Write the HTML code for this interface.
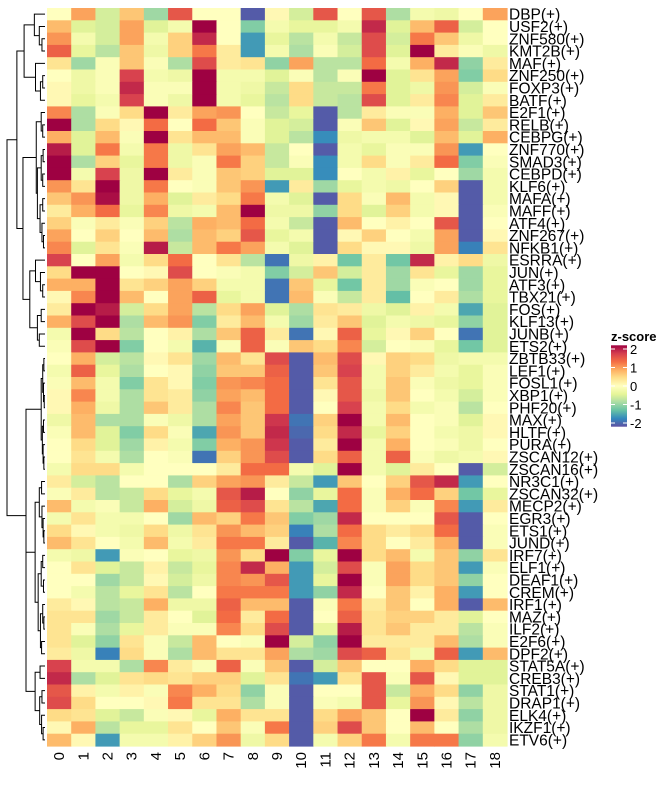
<!DOCTYPE html>
<html><head><meta charset="utf-8"><style>
html,body{margin:0;padding:0;background:#fff;}
svg text{font-family:"Liberation Sans",Arial,sans-serif;}
</style></head><body>
<svg id="chart" width="669" height="780" viewBox="0 0 669 780" xmlns="http://www.w3.org/2000/svg">
<g id="dendro"></g>
<g id="cells"></g>
<g id="rowlabels"></g>
<g id="collabels"></g>
<g id="legend"></g>
</svg>
<script>
const rowNames = ["DBP","USF2","ZNF580","KMT2B","MAF","ZNF250","FOXP3","BATF","E2F1","RELB","CEBPG","ZNF770","SMAD3","CEBPD","KLF6","MAFA","MAFF","ATF4","ZNF267","NFKB1","ESRRA","JUN","ATF3","TBX21","FOS","KLF13","JUNB","ETS2","ZBTB33","LEF1","FOSL1","XBP1","PHF20","MAX","HLTF","PURA","ZSCAN12","ZSCAN16","NR3C1","ZSCAN32","MECP2","EGR3","ETS1","JUND","IRF7","ELF1","DEAF1","CREM","IRF1","MAZ","ILF2","E2F6","DPF2","STAT5A","CREB3","STAT1","DRAP1","ELK4","IKZF1","ETV6"];
const colNames = ["0","1","2","3","4","5","6","7","8","9","10","11","12","13","14","15","16","17","18"];
const legendTicks = [2,1,0,-1,-2];
const zValues = [
[0,1,-0.6,0.7,-1,1.6,0,0,-2.2,0.1,-0.6,1.6,0,1.6,-0.9,-0.2,-0.3,0,1],
[0.8,-0.5,-0.6,1,-0.5,-0.2,2.3,0,-1.2,-0.2,-0.4,-0.4,-0.2,2,-0.5,0.8,1.5,-0.6,0],
[1.1,-0.2,-0.6,1,-0.2,0.6,2,0,-1.7,-0.4,-0.8,-0.2,-0.7,1.7,-0.6,1.3,0.7,-0.3,0],
[1.5,-0.4,-0.8,0.7,-0.3,0.6,1.3,0.3,-1.7,-0.2,-0.9,-0.1,-0.6,1.7,-0.5,2.3,0.3,-0.1,-0.3],
[0.4,-1,-0.1,0.7,-0.1,-0.9,1.7,0.3,0.4,-1.1,1,-0.8,-0.8,1.4,-0.2,0.9,2,-1.1,0.3],
[0,-0.3,-0.1,1.8,-0.2,-0.3,2.3,-0.2,-0.2,-0.5,-0.1,-0.8,-0.1,2.3,-0.5,0.4,1,-1.2,0.5],
[0.1,-0.3,-0.1,2,-0.1,-0.1,2.3,-0.2,-0.3,-0.7,0.5,-0.7,-0.7,1.3,-0.5,-0.3,1.1,-0.6,-0.1],
[0.1,-0.4,-0.2,1.8,-0.1,-0.3,2.3,-0.2,-0.4,-0.8,0.5,-0.7,-0.8,1.7,-0.5,0.3,1.2,-0.5,0.3],
[1.2,-0.9,-0.1,0.5,2.3,0.3,1,1.1,0,-0.7,-0.4,-2.2,-0.8,0.3,-0.1,-0.1,0.9,-0.5,0.7],
[2.3,-0.9,0.5,0.1,1.4,0,1.4,0.7,-0.1,-0.5,-0.6,-2.2,-0.1,0.7,-0.5,0.1,1,-0.7,0.3],
[0.9,-0.5,0.8,-0.1,2.3,0.4,0.8,0.8,-0.1,-0.5,-0.8,-1.8,-0.3,-0.2,-0.2,-0.5,0.8,-0.5,0.9],
[2.1,-0.5,1.3,-0.2,1.3,-0.3,0.4,1,0.8,-0.7,0,-2.2,-0.2,-0.4,-0.1,-0.1,1.1,-1.7,0],
[2.3,-0.9,0.6,-0.4,1.3,-0.3,-0.1,1.3,0.6,-0.7,-0.1,-1.8,-0.2,0.5,-0.1,0.3,1.4,-1.2,-0.1],
[2.3,-0.2,1.8,-0.3,2.3,0.3,-0.1,0.7,0.6,-0.5,-0.5,-1.8,0,-0.2,0.2,-0.4,0,-1,-0.2],
[1.1,0.4,2.3,-0.3,1.3,0,-0.1,0.7,1.1,-1.7,0.3,-1,-0.4,-0.2,-0.3,0,0.6,-2.2,-0.2],
[0.7,1.1,2.2,-0.3,0.9,-0.5,0.3,0.5,1.3,-0.2,-0.5,-2.2,0.5,-0.1,0.8,-0.2,0.1,-2.2,-0.2],
[0.3,0.9,1.4,-0.4,1.2,-0.3,-0.2,0.8,2.3,-0.3,-0.3,-1.1,0.5,-0.5,0.6,-0.2,0.1,-2.2,-0.1],
[0.6,-0.1,0.3,-0.1,0.6,-0.8,0.9,0.8,1.4,-0.2,-0.7,-2.2,0.8,0,0.2,0,1.6,-2.2,0],
[1,0,0.6,0,0.8,-0.9,0.8,0.6,1.6,-0.4,-0.2,-2.2,0.1,0.6,0,-0.2,1,-2.2,0.1],
[1.2,-0.5,0.4,-0.1,2.1,-0.7,0.8,1.3,1,-0.2,-0.5,-2.2,0.5,0.1,0.1,-0.3,1,-1.9,0.4],
[1.8,0,1,-0.2,0.5,1.4,0,0.4,-0.8,-2,-0.3,0.2,-1.3,0.3,-1.3,2,0.2,0.5,-0.3],
[0.5,2.3,2.3,0,0.1,1.7,0,-0.1,-0.2,-1.2,-0.6,0.7,-0.6,0.3,-1,0.4,-0.4,-1,-0.4],
[0.9,0.9,2.3,0.4,0.6,1,0.6,-0.2,-0.2,-2,0.7,-0.4,-1.3,0.3,-1,-0.1,0,-1,-0.4],
[0.1,1.2,2.3,0.8,0,1,1.5,-0.4,-0.2,-2,0.8,-0.1,-0.7,0.3,-1.4,0,0.3,-0.9,-0.4],
[0.3,2.3,2.1,-0.6,0.5,1,-0.8,0.5,1,-0.5,-0.9,0.4,0.3,-0.3,-0.5,0.2,-0.2,-1.6,-0.5],
[0.9,1.7,2.3,-0.9,0.8,1.1,-1.2,0.3,0.8,-0.2,-1,0.3,0.7,-0.5,-0.2,-0.3,-0.4,-1.1,-0.5],
[-0.2,2.3,0.5,-0.8,0,0.2,-0.9,0.7,1.5,0.3,-2,0.1,1.5,-0.4,0.1,0.6,0,-2,-0.5],
[-0.1,1.7,2.3,-1.2,0,-0.2,-1.5,-0.1,1.5,-0.1,0.7,0.5,1.2,-0.6,0,-0.1,-0.4,-1.3,-0.5],
[0,0.9,-0.6,-0.8,0.1,0.4,-1,0.8,0.4,1.7,-2.2,0.8,1.7,0.1,0.6,0.5,-0.3,-0.2,-0.2],
[-0.2,1.5,-0.4,-0.9,0,0.1,-1.1,0.7,0.7,1.5,-2.2,0.7,1.8,-0.2,0.6,0.3,-0.2,-0.4,-0.1],
[-0.1,0.8,-0.2,-1.2,0.4,0.1,-1.2,1.1,1.2,1.4,-2.2,0.4,1.6,-0.2,0.7,-0.1,-0.3,-0.4,-0.1],
[0.1,1.2,-0.2,-0.9,0.4,0.3,-1.1,1,0.8,1.4,-2.2,0.1,1.6,-0.3,0.7,0,-0.2,-0.6,-0.1],
[0.1,0.9,-0.3,-0.9,0.7,0.3,-0.9,1.2,0.7,1.4,-2.2,0,1.8,-0.2,0.5,-0.2,-0.1,-0.8,0],
[-0.3,0.8,-0.9,-0.9,-0.1,-0.3,-0.9,1,0.7,1.9,-2,0.6,2.3,-0.2,0.8,0,-0.1,-0.5,0.1],
[-0.1,0.8,-0.5,-1.2,0.5,-0.1,-1.6,1.1,0.7,2,-2.1,0.5,2,-0.4,0.6,0,-0.2,-0.3,0.1],
[0,0.5,-0.5,-1,0.2,-0.2,-1.2,0.9,1.1,1.9,-2.2,0.3,2.3,-0.2,0.9,0,-0.1,-0.3,0],
[0,0.4,-0.2,-0.9,0,-0.1,-2,0.6,1.1,1.7,-2.2,0.5,1.5,-0.2,1.5,-0.1,-0.3,-0.2,0.1],
[-0.2,0.5,0.5,-0.2,0,0,0,0.3,1.4,1.4,-0.2,-0.5,2.3,-0.2,-0.5,0.3,0,-2.2,-0.6],
[0.3,-0.6,-0.8,0,0,-0.9,0.6,1,1.1,0.3,-0.7,-1.7,0.7,0,0.6,1.6,2,-1.7,0],
[-0.1,0.3,-0.8,-0.7,0.5,-0.4,-0.2,1.6,2.1,0,-1.1,-0.4,1.4,-0.1,0.9,1.4,0.6,-1.3,-0.4],
[0.8,-0.2,-0.1,-0.7,0.9,-0.6,-0.3,1.5,1.7,0.4,-0.8,-1.6,1.4,-0.1,0.6,-0.1,1.2,-1.7,0.3],
[-0.2,0.4,-0.2,-0.2,0,-1,0.8,0.6,1.3,0.7,-1.2,-1,2,0,0,0,1.6,-2.2,0],
[0.5,0.1,-0.2,-0.3,0.5,-0.3,0.4,1.1,0.8,0.6,-1.9,-0.9,1.4,0.5,0.3,0.5,1.4,-2.2,-0.1],
[0.8,0.4,0,-0.2,0.8,-0.2,0.3,1.3,1.3,0.3,-2.2,-1.5,1.2,0.5,0,0.3,0.9,-2.2,-0.1],
[-0.2,-0.3,-1.7,-0.1,0,-0.4,-0.3,1.1,0.5,2.3,-1.2,-0.4,2.3,0.5,0.8,-0.2,0.7,-1.1,0.4],
[0,0.4,-0.5,-0.7,0.2,-0.7,-0.4,1.2,2,0.9,-1.7,-0.6,1.7,-0.1,1,0.5,0.7,-1.7,-0.1],
[0,0,-1,-0.7,0.1,-0.6,-0.3,1.2,1.1,1.6,-1.7,-0.4,2.3,-0.1,1,0.5,0.7,-1.1,0],
[0,-0.2,-0.8,-0.4,0.4,-0.8,0,1.3,1.3,1.3,-1.7,-1.1,2,0,0.7,0.2,0.9,-1.7,0],
[0.3,0.1,-0.8,-0.7,0.9,-0.3,-0.3,1.5,0.8,0.8,-2.2,-0.1,1.3,0.3,0.7,0,0.9,-2.2,0.8],
[0.4,0.4,-1,-0.7,0.3,0,-0.5,1.4,0.3,1.4,-2.2,0,1.5,0.4,0.6,0.6,0.3,-0.5,0],
[0.4,-0.1,-0.9,-0.4,0.3,-0.1,-0.1,1.2,0.5,1.7,-2.2,-0.4,2.1,0.4,0.7,0.3,0.3,-0.8,-0.1],
[0.4,-0.5,-1.1,0.4,-0.1,-0.7,0.8,0,-0.1,2.3,-0.6,-1.1,2.3,0.3,0.3,0.3,0.8,-0.9,-0.1],
[0.3,-0.3,-1.9,0.5,-0.1,-0.9,0.8,0.4,0.4,1,-0.9,-1,1.7,1.5,0.4,-0.2,1.5,-1.7,0.8],
[1.8,-0.2,-0.2,-0.9,1.2,0.3,-0.1,1.5,-0.1,0.7,-2.2,-0.6,0.7,0,0,0.9,0.5,-0.5,-0.5],
[2,-0.9,-0.5,0.4,0.5,0.4,0.6,0.6,-0.5,0.4,-2,-1.7,0.4,1.6,-0.1,1.6,0.1,-0.5,-0.5],
[1.6,0.2,-0.2,0.2,-0.1,1.2,0.9,0.5,-1.1,-0.1,-2.2,0,0,1.6,-0.7,0.9,0.5,-1.1,-0.3],
[1.7,0.5,0,0,0.1,1.3,0.4,0.4,-0.9,-0.1,-2.2,-0.1,-0.2,1.6,-0.4,1.1,0.1,-0.8,-0.3],
[0.5,0.4,-0.5,-0.7,-0.1,0.1,-0.4,0.9,0.4,0.4,-2.2,0.5,1,0.7,0,2.3,0.3,-1.1,-0.3],
[0.1,0.9,-0.8,-0.4,-0.4,0.4,0,0.7,-0.1,1.3,-2.2,0.6,1.7,0.7,0,0.8,0,-0.9,-0.3],
[0.8,0.1,-1.7,-0.2,-0.2,0.2,0.6,1.1,-0.3,0.5,-2.2,-0.2,0.6,1.3,-0.2,1.3,1.3,-1.1,-0.2]
];
// dendrogram merge heights (distance units); tree as nested [height, left, right]
const dendroTree = [10,
  [7.4,
    [5.5,[2.8,0,[1.5,1,[0.8,2,3]]],[2.5,4,[1.2,[0.6,5,6],7]]],
    [5.8,[2.3,[1.0,8,[0.6,9,10]],[2.0,[1.0,[0.5,11,12],[0.6,13,14]],[1.3,[0.6,15,16],[0.8,17,[0.4,18,19]]]]],
         [4.0,[2.5,20,[1.2,21,[0.6,22,23]]],[2.0,[1.0,24,25],[1.5,26,27]]]]
  ],
  [5.0,
    [1.0,[0.6,[0.3,28,29],[0.4,30,[0.2,31,32]]],[0.7,[0.4,33,34],[0.5,35,[0.3,36,37]]]],
    [5.0,
      [2.6,[1.5,[0.9,38,39],[0.8,40,[0.5,41,[0.3,42,43]]]],[1.8,[1.0,[0.6,44,45],[0.4,46,47]],[1.2,[0.6,48,[0.3,49,50]],[0.9,51,52]]]],
      [2.6,[1.3,53,54],[1.4,[0.8,55,56],[0.9,57,[0.5,58,59]]]]
    ]
  ]
];
</script>
<script>
const NS="http://www.w3.org/2000/svg";
const X0=47, X1=507, Y0=8, Y1=746;
const nR=rowNames.length, nC=colNames.length;
const cw=(X1-X0)/nC, rh=(Y1-Y0)/nR;
const xPos=c=>X0+c*cw;
const yPos=r=>Y0+r*rh;
const stops=["#9E0142","#D53E4F","#F46D43","#FDAE61","#FEE08B","#FFFFBF","#E6F598","#ABDDA4","#66C2A5","#3288BD","#5E4FA2"];
const VMAX=2.3;
function hex(h){return [1,3,5].map(i=>parseInt(h.substr(i,2),16));}
function color(v){
  let t=(VMAX-Math.max(-VMAX,Math.min(VMAX,v)))/(2*VMAX)*(stops.length-1);
  let i=Math.min(stops.length-2,Math.floor(t)), f=t-i;
  const a=hex(stops[i]), b=hex(stops[i+1]);
  return "rgb("+a.map((x,k)=>Math.round(x+(b[k]-x)*f)).join(",")+")";
}
function mk(tag,attrs,parent){const e=document.createElementNS(NS,tag);for(const k in attrs)e.setAttribute(k,attrs[k]);parent.appendChild(e);return e;}
const cells=document.getElementById("cells");
zValues.forEach((row,r)=>row.forEach((v,c)=>{
  const e=mk("rect",{x:xPos(c),y:yPos(r),width:cw+0.6,height:rh+0.6,fill:color(v)},cells);
  
  
}));
const rl=document.getElementById("rowlabels");
rowNames.forEach((n,r)=>{
  const t=mk("text",{x:X1+2,y:yPos(r)+rh/2+5.5,"font-size":"15.5",fill:"#000"},rl);
  t.textContent=n+"(+)";
  
  
});
const cl=document.getElementById("collabels");
colNames.forEach((n,c)=>{
  const cx=xPos(c)+cw/2+5, cy=Y1+6;
  const t=mk("text",{x:cx,y:cy,"font-size":"15","text-anchor":"end",transform:`rotate(-90 ${cx} ${cy})`,fill:"#000"},cl);
  t.textContent=n;
  
  
});
// dendrogram
const dg=document.getElementById("dendro");
const DMAX=dendroTree[0], DX0=7, DX1=X0-2;
const hx=h=>DX1-(h/DMAX)*(DX1-DX0);
function draw(node){
  if(typeof node==="number") return {y:yPos(node)+rh/2,x:DX1};
  const a=draw(node[1]), b=draw(node[2]), x=hx(node[0]);
  const p=mk("path",{d:`M${a.x},${a.y}H${x}V${b.y}H${b.x}`,fill:"none",stroke:"#000","stroke-width":"1"},dg);
  
  
  return {y:(a.y+b.y)/2,x:x};
}
draw(dendroTree);
// legend
const lg=document.getElementById("legend");
const LT=mk("text",{x:611,y:341,"font-size":"13","font-weight":"bold",fill:"#000"},lg);
LT.textContent="z-score";


const LY=v=>386-v*18.5;
const defs=mk("defs",{},lg);
const grad=mk("linearGradient",{id:"zg",x1:"0",y1:"0",x2:"0",y2:"1"},defs);
for(let i=0;i<=20;i++){const v=VMAX-i*(2*VMAX)/20;mk("stop",{offset:i/20,"stop-color":color(v)},grad);}
const bar=mk("rect",{x:611,y:LY(2.2),width:16,height:LY(-2.2)-LY(2.2),fill:"url(#zg)"},lg);


legendTicks.forEach(v=>{
  mk("line",{x1:611,x2:615,y1:LY(v),y2:LY(v),stroke:"#fff","stroke-width":"1"},lg);
  mk("line",{x1:623,x2:627,y1:LY(v),y2:LY(v),stroke:"#fff","stroke-width":"1"},lg);
  const t=mk("text",{x:630,y:LY(v)+5,"font-size":"13",fill:"#000"},lg);
  t.textContent=v;
  
  
});
</script>
</body></html>
